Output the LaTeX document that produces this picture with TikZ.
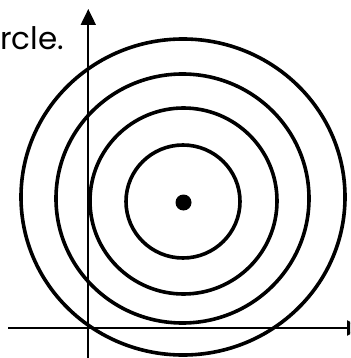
\documentclass[tikz,border=0pt]{standalone}
\usepackage{fontspec}
\setmainfont{Poppins}
\usetikzlibrary{arrows.meta}
\begin{document}
\begin{tikzpicture}[x=1pt,y=-1pt,
  ring/.style={line width=3.6pt},
  axis/.style={line width=2pt,-{Triangle[length=16pt,width=15pt]}},
  label/.style={anchor=base west,inner sep=0pt,font=\fontsize{31}{33}\selectfont}]
\useasboundingbox (0,0) rectangle (350,358);
\clip (0,0) rectangle (350,358);
% circles
\draw[ring] (183,201.5) ellipse [x radius=57, y radius=56.5];
\draw[ring] (183.5,201) ellipse [x radius=93.5, y radius=93];
\draw[ring] (182.5,198.5) ellipse [x radius=126.5, y radius=124.5];
\draw[ring] (183,197) ellipse [x radius=162, y radius=158];
% centre dot
\fill (183.5,202.5) circle [radius=8];
% axes
\coordinate (ybot) at (88.3,362);
\coordinate (ytop) at (88.3,9);
\coordinate (xleft) at (8,328);
\coordinate (xright) at (363,328);
\draw[axis] (ybot) -- (ytop);
\draw[axis] (xleft) -- (xright);
% text
\node[label] (txt) at (0,50) {rcle.};
\end{tikzpicture}
\end{document}
